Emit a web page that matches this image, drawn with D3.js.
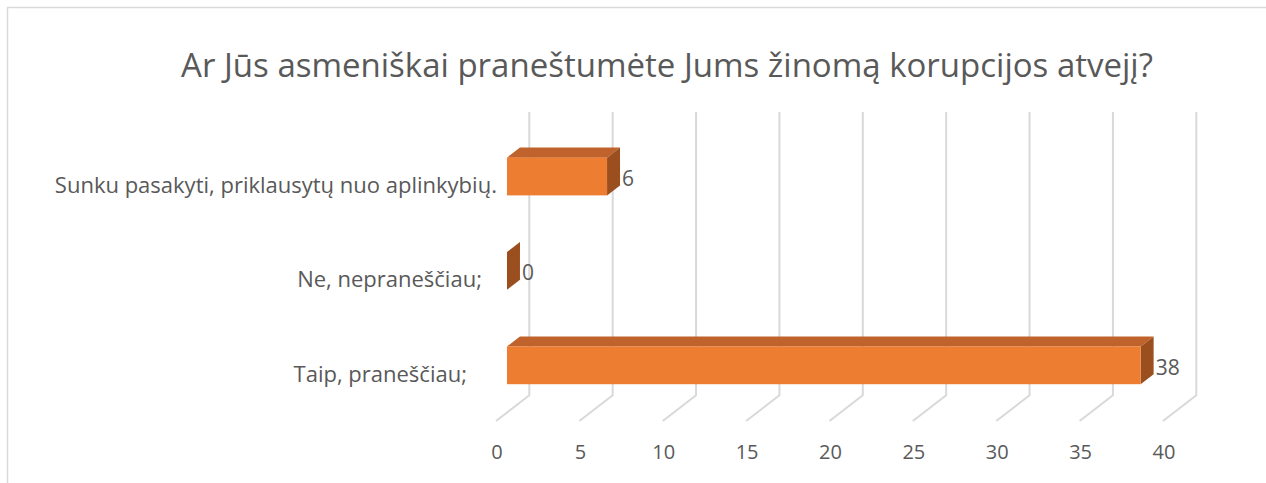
<!DOCTYPE html>
<html>
<head>
<meta charset="utf-8">
<script src="https://cdn.jsdelivr.net/npm/d3@7"></script>
<style>
  body { margin: 0; background: #fff; }
  svg text { font-family: "Open Sans", Lato, sans-serif; fill: #595959; }
</style>
</head>
<body>
<svg id="chart"></svg>
<script>
// data
let categories = ["Taip, praneščiau;", "Ne, nepraneščiau;", "Sunku pasakyti, priklausytų nuo aplinkybių."];
let values = [38, 0, 6];
let tickValues = [0, 5, 10, 15, 20, 25, 30, 35, 40];
let title = "Ar Jūs asmeniškai praneštumėte Jums žinomą korupcijos atvejį?";

let w = 1266, h = 483;

let svg = d3.select("#chart").attr("width", w).attr("height", h);

// outer frame (runs off the right / bottom edge like the original)
svg.append("rect")
  .attr("x", 7.5).attr("y", 7.5)
  .attr("width", 1300).attr("height", 500)
  .attr("fill", "none")
  .attr("stroke", "#d9d9d9")
  .attr("stroke-width", 1.5);

svg.append("text")
  .attr("class", "title")
  .attr("x", 667)
  .attr("y", 77)
  .attr("text-anchor", "middle")
  .style("font-size", "33px")
  .text(title);

// front plane scales
let xScale = d3.scaleLinear().domain([0, 40]).range([496, 1163]);
let floorY = 421;
let yScale = d3.scaleBand().domain(categories).range([floorY, 137.8])
  .paddingInner(0.6).paddingOuter(0.3);

// oblique depth vector (full depth of the floor)
let depth = { dx: 33.3, dy: -25.7 };
let barFront = 0.33, barBack = 0.72;

function P(v, y, f) {
  return [xScale(v) + depth.dx * f, y + depth.dy * f];
}

let g = svg.append("g");

// gridlines: back wall vertical + floor diagonal
let grid = g.append("g").attr("class", "grid");
tickValues.forEach(function (t) {
  let top = P(t, yScale.range()[1], 1),
    back = P(t, floorY, 1),
    front = P(t, floorY, 0);
  grid.append("polyline")
    .attr("points", [top, back, front].map(function (p) { return p.join(","); }).join(" "))
    .attr("fill", "none")
    .attr("stroke", "#d9d9d9")
    .attr("stroke-width", 2);
});

// tick labels
g.selectAll(".tick")
  .data(tickValues)
  .enter()
  .append("text")
  .attr("class", "tick")
  .attr("x", function (d) { return xScale(d) + 1; })
  .attr("y", 459)
  .attr("text-anchor", "middle")
  .style("font-size", "20px")
  .text(function (d) { return d; });

let data = categories.map(function (c, i) { return { cat: c, val: values[i] }; });

function pts(arr) {
  return arr.map(function (p) { return p.join(","); }).join(" ");
}

let bars = g.selectAll(".bar")
  .data(data)
  .enter()
  .append("g")
  .attr("class", "bar");

// top face
bars.append("polygon")
  .attr("points", function (d) {
    let y0 = yScale(d.cat);
    return pts([P(0, y0, barFront), P(d.val, y0, barFront), P(d.val, y0, barBack), P(0, y0, barBack)]);
  })
  .attr("fill", "#c0622b");

// side face
bars.append("polygon")
  .attr("points", function (d) {
    let y0 = yScale(d.cat), y1 = y0 + yScale.bandwidth();
    return pts([P(d.val, y0, barFront), P(d.val, y0, barBack), P(d.val, y1, barBack), P(d.val, y1, barFront)]);
  })
  .attr("fill", "#9b4f1f");

// front face
bars.append("rect")
  .attr("x", function (d) { return P(0, 0, barFront)[0]; })
  .attr("y", function (d) { return P(0, yScale(d.cat), barFront)[1]; })
  .attr("width", function (d) { return xScale(d.val) - xScale(0); })
  .attr("height", yScale.bandwidth())
  .attr("fill", "#ed7d31");

// value labels
bars.append("text")
  .attr("x", function (d) { return P(d.val, 0, barBack)[0] + 2; })
  .attr("y", function (d) {
    return P(0, yScale(d.cat) + yScale.bandwidth() / 2, barFront)[1] + 9.5;
  })
  .style("font-size", "21px")
  .text(function (d) { return d.val; });

// category labels (they drift left a little going down, as in the original)
let labelX = d3.scaleLinear().domain([176, 365]).range([497, 467]);
g.selectAll(".cat")
  .data(data)
  .enter()
  .append("text")
  .attr("class", "cat")
  .attr("text-anchor", "end")
  .attr("x", function (d) {
    return labelX(P(0, yScale(d.cat) + yScale.bandwidth() / 2, barFront)[1]);
  })
  .attr("y", function (d) {
    return P(0, yScale(d.cat) + yScale.bandwidth() / 2, barFront)[1] + 16.5;
  })
  .style("font-size", "22px")
  .text(function (d) { return d.cat; });
</script>
</body>
</html>
